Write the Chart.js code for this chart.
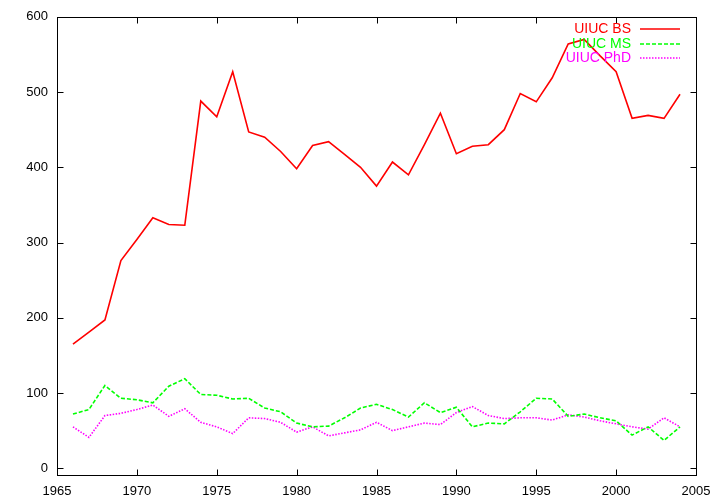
<!DOCTYPE html>
<html>
<head>
<meta charset="utf-8">
<script src="https://cdn.jsdelivr.net/npm/chart.js@4/dist/chart.umd.min.js"></script>
<style>
html,body{margin:0;padding:0;background:#fff;}
#wrap{width:720px;height:504px;}
</style>
</head>
<body>
<div id="wrap"><canvas id="c" width="720" height="504"></canvas></div>
<script>
const years = [1966,1967,1968,1969,1970,1971,1972,1973,1974,1975,1976,1977,1978,1979,1980,1981,1982,1983,1984,1985,1986,1987,1988,1989,1990,1991,1992,1993,1994,1995,1996,1997,1998,1999,2000,2001,2002,2003,2004];
const bs  = [165,181,197,276,304,333,324,323,488,467,527,447,440,421,398,429,434,417,400,375,407,390,430,472,418,428,430,450,498,487,519,564,570,548,527,465,469,465,497];
const ms  = [72,78,110,93,91,87,109,119,98,97,92,93,80,75,60,55,56,67,80,85,78,68,87,74,81,55,60,59,75,93,92,69,72,67,63,44,55,37,55];
const phd = [55,41,70,73,78,84,69,79,61,55,46,67,66,61,48,55,43,47,51,61,50,55,60,58,74,82,70,66,67,67,64,71,68,63,59,55,52,67,55];
const seriesLabels = ['UIUC BS','UIUC MS','UIUC PhD'];
const xTicks = [1965,1970,1975,1980,1985,1990,1995,2000,2005];
const yTicks = [0,100,200,300,400,500,600];

const toXY = arr => years.map((y,i)=>({x:y,y:arr[i]}));

const framePlugin = {
  id:'frame',
  afterDraw(chart){
    const ctx = chart.ctx, a = chart.chartArea;
    const xs = chart.scales.x, ys = chart.scales.y;
    ctx.save();
    ctx.strokeStyle = '#000';
    ctx.lineWidth = 1;
    const L = Math.round(a.left)+0.5, R = Math.round(a.right)+0.5, T = Math.round(a.top)+0.5, B = Math.round(a.bottom)+0.5;
    ctx.strokeRect(L, T, R-L, B-T);
    const tl = 6;
    ctx.beginPath();
    xTicks.forEach(v=>{
      const px = Math.round(xs.getPixelForValue(v))+0.5;
      ctx.moveTo(px,B); ctx.lineTo(px,B-tl);
      ctx.moveTo(px,T); ctx.lineTo(px,T+tl);
    });
    yTicks.forEach(v=>{
      const py = Math.round(ys.getPixelForValue(v))+0.5;
      ctx.moveTo(L,py); ctx.lineTo(L+tl,py);
      ctx.moveTo(R,py); ctx.lineTo(R-tl,py);
    });
    ctx.stroke();
    // legend
    ctx.font = '14px "Liberation Sans", Arial, sans-serif';
    ctx.textAlign = 'right';
    ctx.textBaseline = 'middle';
    const textRight = 631, s0 = 640, s1 = 680;
    const rowY = [29, 44, 58];
    chart.data.datasets.forEach((ds,i)=>{
      const y = rowY[i];
      ctx.fillStyle = ds.borderColor;
      ctx.fillText(ds.label, textRight, y);
      ctx.beginPath();
      ctx.strokeStyle = ds.borderColor;
      ctx.lineWidth = ds.borderWidth;
      ctx.setLineDash(ds.borderDash || []);
      ctx.moveTo(s0, y); ctx.lineTo(s1, y);
      ctx.stroke();
    });
    ctx.restore();
  }
};

new Chart(document.getElementById('c'), {
  type:'line',
  data:{
    datasets:[
      {label:seriesLabels[0], data:toXY(bs), borderColor:'#ff0000', borderWidth:1.6, pointRadius:0, tension:0, fill:false},
      {label:seriesLabels[1], data:toXY(ms), borderColor:'#00ff00', borderWidth:1.6, borderDash:[4,2], pointRadius:0, tension:0, fill:false},
      {label:seriesLabels[2], data:toXY(phd), borderColor:'#ff00ff', borderWidth:1.6, borderDash:[1.5,1.5], pointRadius:0, tension:0, fill:false}
    ]
  },
  options:{
    responsive:false,
    animation:false,
    layout:{padding:{left:0,top:16,right:24,bottom:0}},
    plugins:{legend:{display:false}, tooltip:{enabled:false}},
    scales:{
      x:{
        type:'linear', min:1965, max:2005,
        grid:{display:false, drawTicks:false},
        border:{display:false},
        afterBuildTicks:s=>{ s.ticks = xTicks.map(v=>({value:v})); },
        afterFit:s=>{ s.height = 29; },
        ticks:{padding:9, color:'#000', font:{family:'"Liberation Sans", Arial, sans-serif', size:13}, callback:v=>String(v), maxRotation:0, autoSkip:false}
      },
      y:{
        type:'linear', min:-9, max:600,
        grid:{display:false, drawTicks:false},
        border:{display:false},
        afterBuildTicks:s=>{ s.ticks = yTicks.map(v=>({value:v})); },
        afterFit:s=>{ s.width = 57; },
        ticks:{padding:9, color:'#000', font:{family:'"Liberation Sans", Arial, sans-serif', size:13}, callback:v=>String(v), autoSkip:false}
      }
    }
  },
  plugins:[framePlugin]
});
</script>
</body>
</html>
